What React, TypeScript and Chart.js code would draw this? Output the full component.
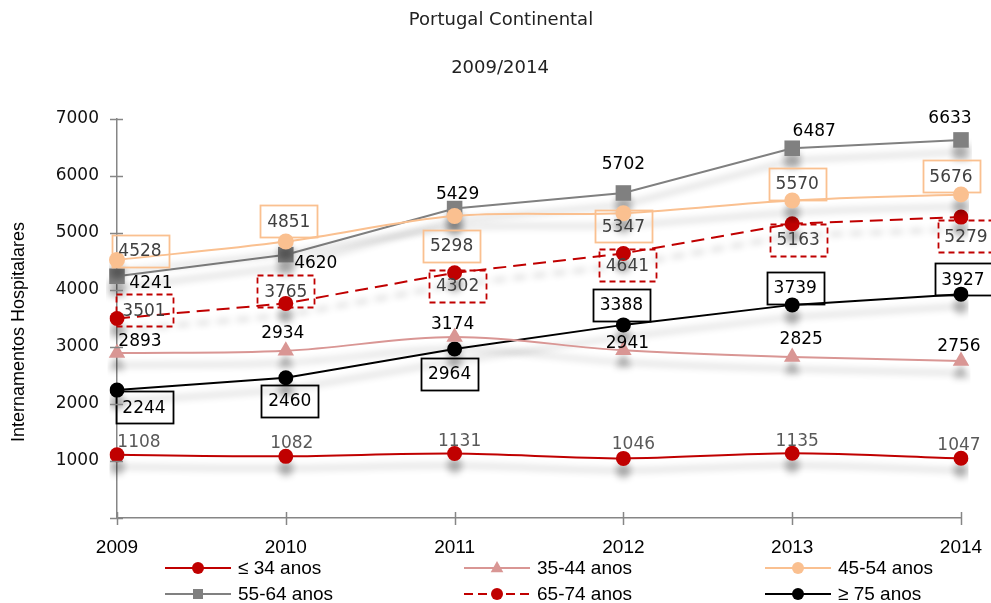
import { useEffect, useRef } from 'react';
import { Chart, registerables } from 'chart.js';

Chart.register(...registerables);

// Hospital admissions in mainland Portugal by age group, 2009-2014
const years = ['2009', '2010', '2011', '2012', '2013', '2014'];
const upTo34 = [1108, 1082, 1131, 1046, 1135, 1047];
const age35to44 = [2893, 2934, 3174, 2941, 2825, 2756];
const age45to54 = [4528, 4851, 5298, 5347, 5570, 5676];
const age55to64 = [4241, 4620, 5429, 5702, 6487, 6633];
const age65to74 = [3501, 3765, 4302, 4641, 5163, 5279];
const from75 = [2244, 2460, 2964, 3388, 3739, 3927];
const seriesNames = ['≤ 34 anos', '35-44 anos', '45-54 anos', '55-64 anos', '65-74 anos', '≥ 75 anos'];
const titleLines = ['Portugal Continental', '2009/2014'];
const yAxisTitle = 'Internamentos Hospitalares';
const yMin = 0;
const yMax = 7000;
const yStep = 1000;

const RED = '#C00000';
const PINK = '#D99694';
const ORANGE = '#FAC090';
const GRAY = '#808080';
const BLACK = '#000000';
const AXIS = '#868686';

type LabelStyle = {
  box: 'solid' | 'dashed' | null;
  boxColor?: string;
  text: string;
  offsets: [number, number][];
};

const labelStyles: LabelStyle[] = [
  { box: null, text: '#595959', offsets: [[22, -13], [6, -14], [5, -13], [10, -15], [5, -13], [-2, -14]] },
  { box: null, text: '#000000', offsets: [[23, -13], [-3, -18], [-2, -14], [4, -8], [9, -18], [-2, -15]] },
  { box: 'solid', boxColor: ORANGE, text: '#404040', offsets: [[23, -9], [3, -20], [-3, 30], [0, 13], [5, -17], [-10, -18]] },
  { box: null, text: '#000000', offsets: [[34, 6], [30, 8], [3, -15], [0, -29], [22, -18], [-11, -22]] },
  { box: 'dashed', boxColor: RED, text: '#404040', offsets: [[27, -8], [0, -12], [3, 13], [4, 12], [6, 16], [5, 19]] },
  { box: 'solid', boxColor: BLACK, text: '#000000', offsets: [[27, 17], [4, 23], [-5, 25], [-2, -20], [3, -17], [2, -15]] },
];

function drawMarker(ctx: CanvasRenderingContext2D, style: string, x: number, y: number, r: number, color: string) {
  ctx.save();
  ctx.fillStyle = color;
  ctx.beginPath();
  if (style === 'rect') {
    ctx.rect(x - r, y - r, 2 * r, 2 * r);
  } else if (style === 'triangle') {
    ctx.moveTo(x, y - r);
    ctx.lineTo(x + r * 0.9, y + r * 0.6);
    ctx.lineTo(x - r * 0.9, y + r * 0.6);
    ctx.closePath();
  } else {
    ctx.arc(x, y, r, 0, Math.PI * 2);
  }
  ctx.fill();
  ctx.restore();
}

const shadowPlugin = {
  id: 'dropShadow',
  beforeDatasetDraw(chart: any) {
    const c = chart.ctx;
    c.save();
    c.shadowColor = 'rgba(0,0,0,0.30)';
    c.shadowBlur = 7;
    c.shadowOffsetX = 0;
    c.shadowOffsetY = 12;
  },
  afterDatasetDraw(chart: any) {
    chart.ctx.restore();
  },
};

const decorPlugin = {
  id: 'decor',
  afterDatasetsDraw(chart: any) {
    const ctx: CanvasRenderingContext2D = chart.ctx;
    chart.data.datasets.forEach((ds: any, di: number) => {
      const meta = chart.getDatasetMeta(di);
      const st = labelStyles[di];
      meta.data.forEach((pt: any, i: number) => {
        const [dx, dy] = st.offsets[i];
        const cx = pt.x + dx;
        const cy = pt.y + dy;
        ctx.save();
        if (st.box) {
          const w = 57;
          const h = 32;
          ctx.strokeStyle = st.boxColor as string;
          ctx.lineWidth = 1.8;
          ctx.setLineDash(st.box === 'dashed' ? [6, 4] : []);
          ctx.strokeRect(Math.round(cx - w / 2) + 0.5, Math.round(cy - h / 2) + 0.5, w, h);
        }
        ctx.setLineDash([]);
        ctx.fillStyle = st.text;
        ctx.font = '17px "DejaVu Sans"';
        ctx.textAlign = 'center';
        ctx.textBaseline = 'middle';
        ctx.fillText(String(ds.data[i]), cx, cy + 1);
        ctx.restore();
      });
    });
  },
  afterDraw(chart: any) {
    const ctx: CanvasRenderingContext2D = chart.ctx;
    const area = chart.chartArea;
    const xs = chart.scales.x;
    const ys = chart.scales.y;
    ctx.save();
    // crossing tick marks on both axes
    ctx.strokeStyle = AXIS;
    ctx.lineWidth = 1.5;
    ys.ticks.forEach((t: any) => {
      const y = Math.round(ys.getPixelForValue(t.value)) + 0.5;
      ctx.beginPath();
      ctx.moveTo(area.left - 7, y);
      ctx.lineTo(area.left + 6, y);
      ctx.stroke();
    });
    years.forEach((_, i) => {
      const x = Math.round(xs.getPixelForValue(i)) + 0.5;
      ctx.beginPath();
      ctx.moveTo(x, area.bottom - 6);
      ctx.lineTo(x, area.bottom + 7);
      ctx.stroke();
    });

    // titles
    ctx.fillStyle = '#222';
    ctx.font = '18px "DejaVu Sans"';
    ctx.textAlign = 'center';
    ctx.textBaseline = 'middle';
    ctx.fillText(titleLines[0], 501, 20);
    ctx.fillText(titleLines[1], 500, 68);

    // y axis title
    ctx.save();
    ctx.translate(19, 332);
    ctx.rotate(-Math.PI / 2);
    ctx.font = '18px "Liberation Sans"';
    ctx.fillStyle = '#000';
    ctx.fillText(yAxisTitle, 0, 0);
    ctx.restore();

    // legend, three columns by two rows
    const colX = [165, 464, 765];
    const rowY = [568, 594];
    chart.data.datasets.forEach((ds: any, i: number) => {
      const x0 = colX[i % 3];
      const y = rowY[Math.floor(i / 3)];
      const len = 66;
      ctx.save();
      ctx.strokeStyle = ds.borderColor;
      ctx.lineWidth = 2;
      ctx.setLineDash(ds.borderDash && ds.borderDash.length ? [9, 5] : []);
      ctx.beginPath();
      ctx.moveTo(x0, y);
      ctx.lineTo(x0 + len, y);
      ctx.stroke();
      ctx.restore();
      const ps = ds.pointStyle;
      drawMarker(ctx, ps, x0 + len / 2, y, ps === 'rect' ? 5 : ps === 'triangle' ? 7 : 6, ds.pointBackgroundColor);
      ctx.fillStyle = '#000';
      ctx.font = '19px "Liberation Sans"';
      ctx.textAlign = 'left';
      ctx.textBaseline = 'middle';
      ctx.fillText(seriesNames[i], x0 + len + 7, y + 1);
    });
    ctx.restore();
  },
};

export default function App() {
  const canvasRef = useRef<HTMLCanvasElement | null>(null);

  useEffect(() => {
    document.body.style.margin = '0';
    const canvas = canvasRef.current;
    if (!canvas) return;

    const line = (data: number[], color: string, pointStyle: string, radius: number, tension: number, dash: number[] = []) => ({
      data,
      borderColor: color,
      backgroundColor: color,
      pointBackgroundColor: color,
      pointBorderColor: color,
      pointBorderWidth: 0,
      pointStyle,
      pointRadius: radius,
      borderWidth: 2,
      borderDash: dash,
      tension,
      fill: false,
    });

    const chart = new Chart(canvas, {
      type: 'line',
      data: {
        labels: years,
        datasets: [
          { label: seriesNames[0], ...line(upTo34, RED, 'circle', 7.5, 0.3) },
          { label: seriesNames[1], ...line(age35to44, PINK, 'triangle', 9.5, 0.35) },
          { label: seriesNames[2], ...line(age45to54, ORANGE, 'circle', 8, 0.35) },
          { label: seriesNames[3], ...line(age55to64, GRAY, 'rect', 11, 0) },
          { label: seriesNames[4], ...line(age65to74, RED, 'circle', 7.5, 0, [13, 7]) },
          { label: seriesNames[5], ...line(from75, BLACK, 'circle', 7.5, 0) },
        ],
      },
      options: {
        responsive: false,
        animation: false,
        devicePixelRatio: 1,
        layout: { padding: { top: 119, right: 30, left: 0, bottom: 0 } },
        plugins: {
          legend: { display: false },
          title: { display: false },
          tooltip: { enabled: false },
        },
        scales: {
          x: {
            type: 'category',
            offset: false,
            grid: { drawOnChartArea: false, drawTicks: false },
            border: { display: true, color: AXIS, width: 1.5 },
            ticks: {
              color: '#000',
              font: { family: '"Liberation Sans"', size: 19 },
              padding: 18,
              maxRotation: 0,
              autoSkip: false,
            },
            afterFit(scale: any) {
              scale.height = 85;
              scale.paddingLeft = 0;
              scale.paddingRight = 0;
            },
          },
          y: {
            min: yMin,
            max: yMax,
            grid: { drawOnChartArea: false, drawTicks: false },
            border: { display: true, color: AXIS, width: 1.5 },
            ticks: {
              stepSize: yStep,
              color: '#111',
              font: { family: '"DejaVu Sans"', size: 17 },
              padding: 18,
              callback: (v: any) => (v === 0 ? '' : String(v)),
            },
            afterFit(scale: any) {
              scale.width = 117;
              scale.paddingTop = 0;
              scale.paddingBottom = 0;
            },
          },
        },
      },
      plugins: [shadowPlugin, decorPlugin],
    } as any);

    return () => chart.destroy();
  }, []);

  return <canvas ref={canvasRef} width={991} height={603} style={{ display: 'block', width: 991, height: 603 }} />;
}
